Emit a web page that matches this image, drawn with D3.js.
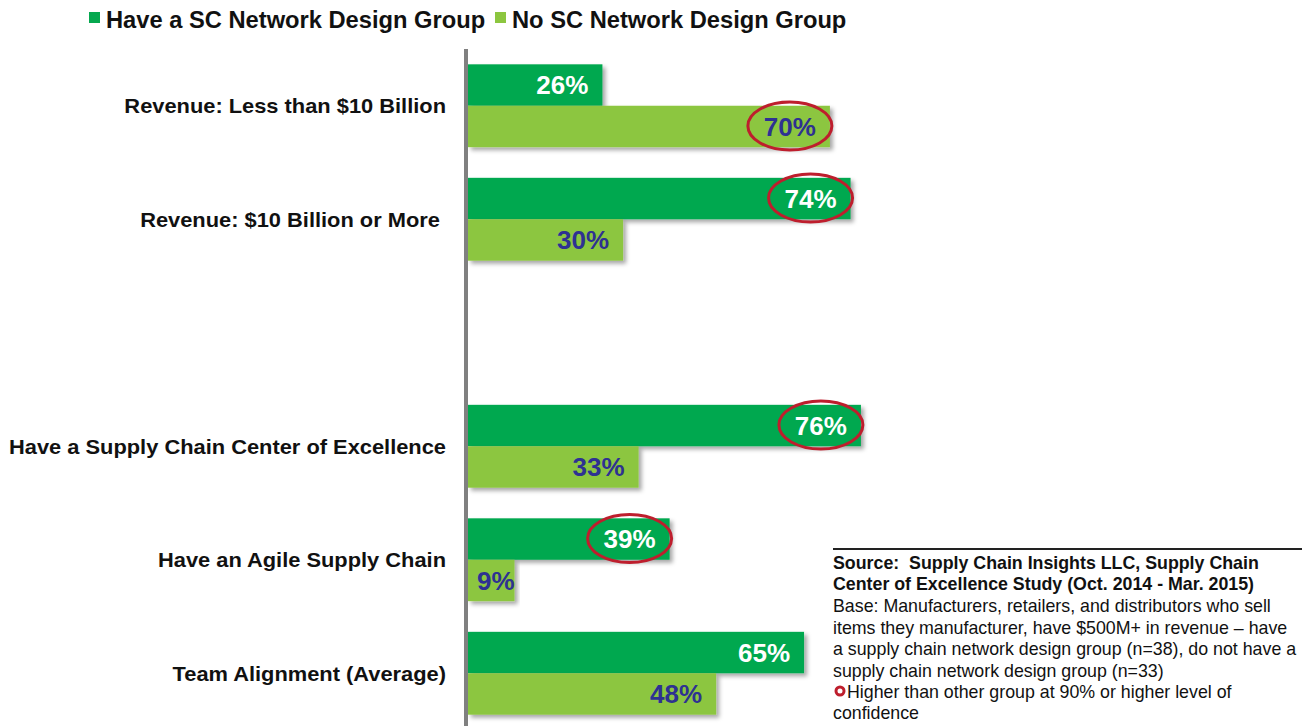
<!DOCTYPE html>
<html>
<head>
<meta charset="utf-8">
<script src="https://cdn.jsdelivr.net/npm/d3@7"></script>
<style>
  html, body { margin: 0; padding: 0; background: #fff; }
  svg { display: block; font-family: "Liberation Sans", Arial, Helvetica, sans-serif; }
  text { white-space: pre; }
</style>
</head>
<body>
<svg id="chart" width="1309" height="726"></svg>
<script>
// ---- data ----
const categories = [
  "Revenue: Less than $10 Billion",
  "Revenue: $10 Billion or More ",
  "",
  "Have a Supply Chain Center of Excellence",
  "Have an Agile Supply Chain",
  "Team Alignment (Average)"
];
const seriesNames = ["Have a SC Network Design Group", "No SC Network Design Group"];
const haveGroup = [26, 74, null, 76, 39, 65];
const noGroup   = [70, 30, null, 33, 9, 48];
const haveSignificant = [false, true, false, true, true, false];
const noSignificant   = [true, false, false, false, false, false];
const sourceBold = [
  "Source:  Supply Chain Insights LLC, Supply Chain",
  "Center of Excellence Study (Oct. 2014 - Mar. 2015)"
];
const sourceBase = [
  "Base: Manufacturers, retailers, and distributors who sell",
  "items they manufacturer, have $500M+ in revenue \u2013 have",
  "a supply chain network design group (n=38), do not have a",
  "supply chain network design group (n=33)"
];
const sourceNote = ["Higher than other group at 90% or higher level of", "confidence"];

// ---- styles ----
const colors = ["#06A84F", "#8CC63F"];
const labelColors = ["#FFFFFF", "#2E3192"];
const ringColor = "#BE1E2D";

const svg = d3.select("#chart");

// stretch text horizontally by a factor
function stretch(sel, k) {
  sel.each(function() {
    const w = this.getComputedTextLength();
    if (w > 0) d3.select(this).attr("textLength", w * k).attr("lengthAdjust", "spacingAndGlyphs");
  });
}

const defs = svg.append("defs");
const f = defs.append("filter").attr("id", "shadow")
  .attr("x", "-5%").attr("y", "-20%").attr("width", "115%").attr("height", "160%");
f.append("feDropShadow").attr("dx", 3).attr("dy", 3).attr("stdDeviation", 2)
  .attr("flood-color", "#000").attr("flood-opacity", 0.35);

const x = d3.scaleLinear().domain([0, 100]).range([468, 985]);
const y = d3.scaleBand().domain(categories.map((d, i) => String(i)))
  .range([49, 730]).paddingInner(0.27).paddingOuter(0.135);
const ys = d3.scaleBand().domain(["0", "1"]).range([0, y.bandwidth()]).padding(0);

const rows = categories.map((c, i) => ({
  cat: c, i,
  vals: [
    { s: 0, v: haveGroup[i], sig: haveSignificant[i] },
    { s: 1, v: noGroup[i], sig: noSignificant[i] }
  ]
}));

// bars
const g = svg.append("g");
const groups = g.selectAll("g.cat").data(rows).join("g")
  .attr("class", "cat")
  .attr("transform", d => `translate(0,${y(String(d.i))})`);

groups.selectAll("rect").data(d => d.vals.filter(v => v.v != null)).join("rect")
  .attr("x", x(0))
  .attr("y", d => ys(String(d.s)))
  .attr("width", d => x(d.v) - x(0))
  .attr("height", ys.bandwidth())
  .attr("fill", d => colors[d.s])
  .attr("filter", "url(#shadow)");

// value labels
const lbls = groups.selectAll("text.val").data(d => d.vals.filter(v => v.v != null)).join("text")
  .attr("class", "val")
  .attr("y", d => ys(String(d.s)) + ys.bandwidth() / 2)
  .attr("dy", "0.36em")
  .attr("text-anchor", "end")
  .attr("font-size", 26)
  .attr("font-weight", "bold")
  .attr("fill", d => labelColors[d.s])
  .text(d => d.v + "%");
lbls.each(function(d) {
  const w = this.getComputedTextLength();
  const end = Math.max(x(d.v) - 14, x(0) + 9 + w);
  d3.select(this).attr("x", end);
  d.labelEnd = end; d.labelW = w;
});

// significance rings
lbls.each(function(d) {
  if (!d.sig) return;
  d3.select(this.parentNode).append("ellipse")
    .attr("cx", d.labelEnd - d.labelW / 2)
    .attr("cy", ys(String(d.s)) + ys.bandwidth() / 2 - 0.5)
    .attr("rx", 42).attr("ry", 24)
    .attr("fill", "none")
    .attr("stroke", ringColor)
    .attr("stroke-width", 3);
});

// category labels
const catLabels = groups.append("text")
  .attr("x", 446)
  .attr("y", y.bandwidth() / 2)
  .attr("dy", "0.35em")
  .attr("text-anchor", "end")
  .attr("font-size", 21)
  .attr("font-weight", "bold")
  .attr("fill", "#111")
  .text(d => d.cat);
stretch(catLabels, 1.04);

// axis line
svg.append("line")
  .attr("x1", 466).attr("x2", 466)
  .attr("y1", 49).attr("y2", 726)
  .attr("stroke", "#808080").attr("stroke-width", 4);

// legend
const legX = [89, 495];
const leg = svg.append("g").selectAll("g").data(seriesNames).join("g")
  .attr("transform", (d, i) => `translate(${legX[i]},0)`);
leg.append("rect").attr("x", 0).attr("y", 12).attr("width", 11).attr("height", 11)
  .attr("fill", (d, i) => colors[i]);
const legText = leg.append("text").attr("x", 17).attr("y", 28)
  .attr("font-size", 23).attr("font-weight", "bold").attr("fill", "#111")
  .text(d => d);
stretch(legText, 1.03);

// source block
const src = svg.append("g");
src.append("line").attr("x1", 833).attr("x2", 1302).attr("y1", 549).attr("y2", 549)
  .attr("stroke", "#222").attr("stroke-width", 2);
const boldY = [569, 590];
src.selectAll("text.b").data(sourceBold).join("text").attr("class", "b")
  .attr("x", 833).attr("y", (d, i) => boldY[i])
  .attr("font-size", 17.8).attr("font-weight", "bold").attr("fill", "#111")
  .text(d => d);
src.selectAll("text.n").data(sourceBase).join("text").attr("class", "n")
  .attr("x", 833).attr("y", (d, i) => 612 + i * 21.5)
  .attr("font-size", 17.8).attr("fill", "#111")
  .text(d => d);
src.append("circle").attr("cx", 840).attr("cy", 691).attr("r", 4)
  .attr("fill", "#fff").attr("stroke", ringColor).attr("stroke-width", 3);
src.selectAll("text.m").data(sourceNote).join("text").attr("class", "m")
  .attr("x", (d, i) => i === 0 ? 847 : 833).attr("y", (d, i) => 698 + i * 20.5)
  .attr("font-size", 17.8).attr("fill", "#111")
  .text(d => d);
</script>
</body>
</html>
